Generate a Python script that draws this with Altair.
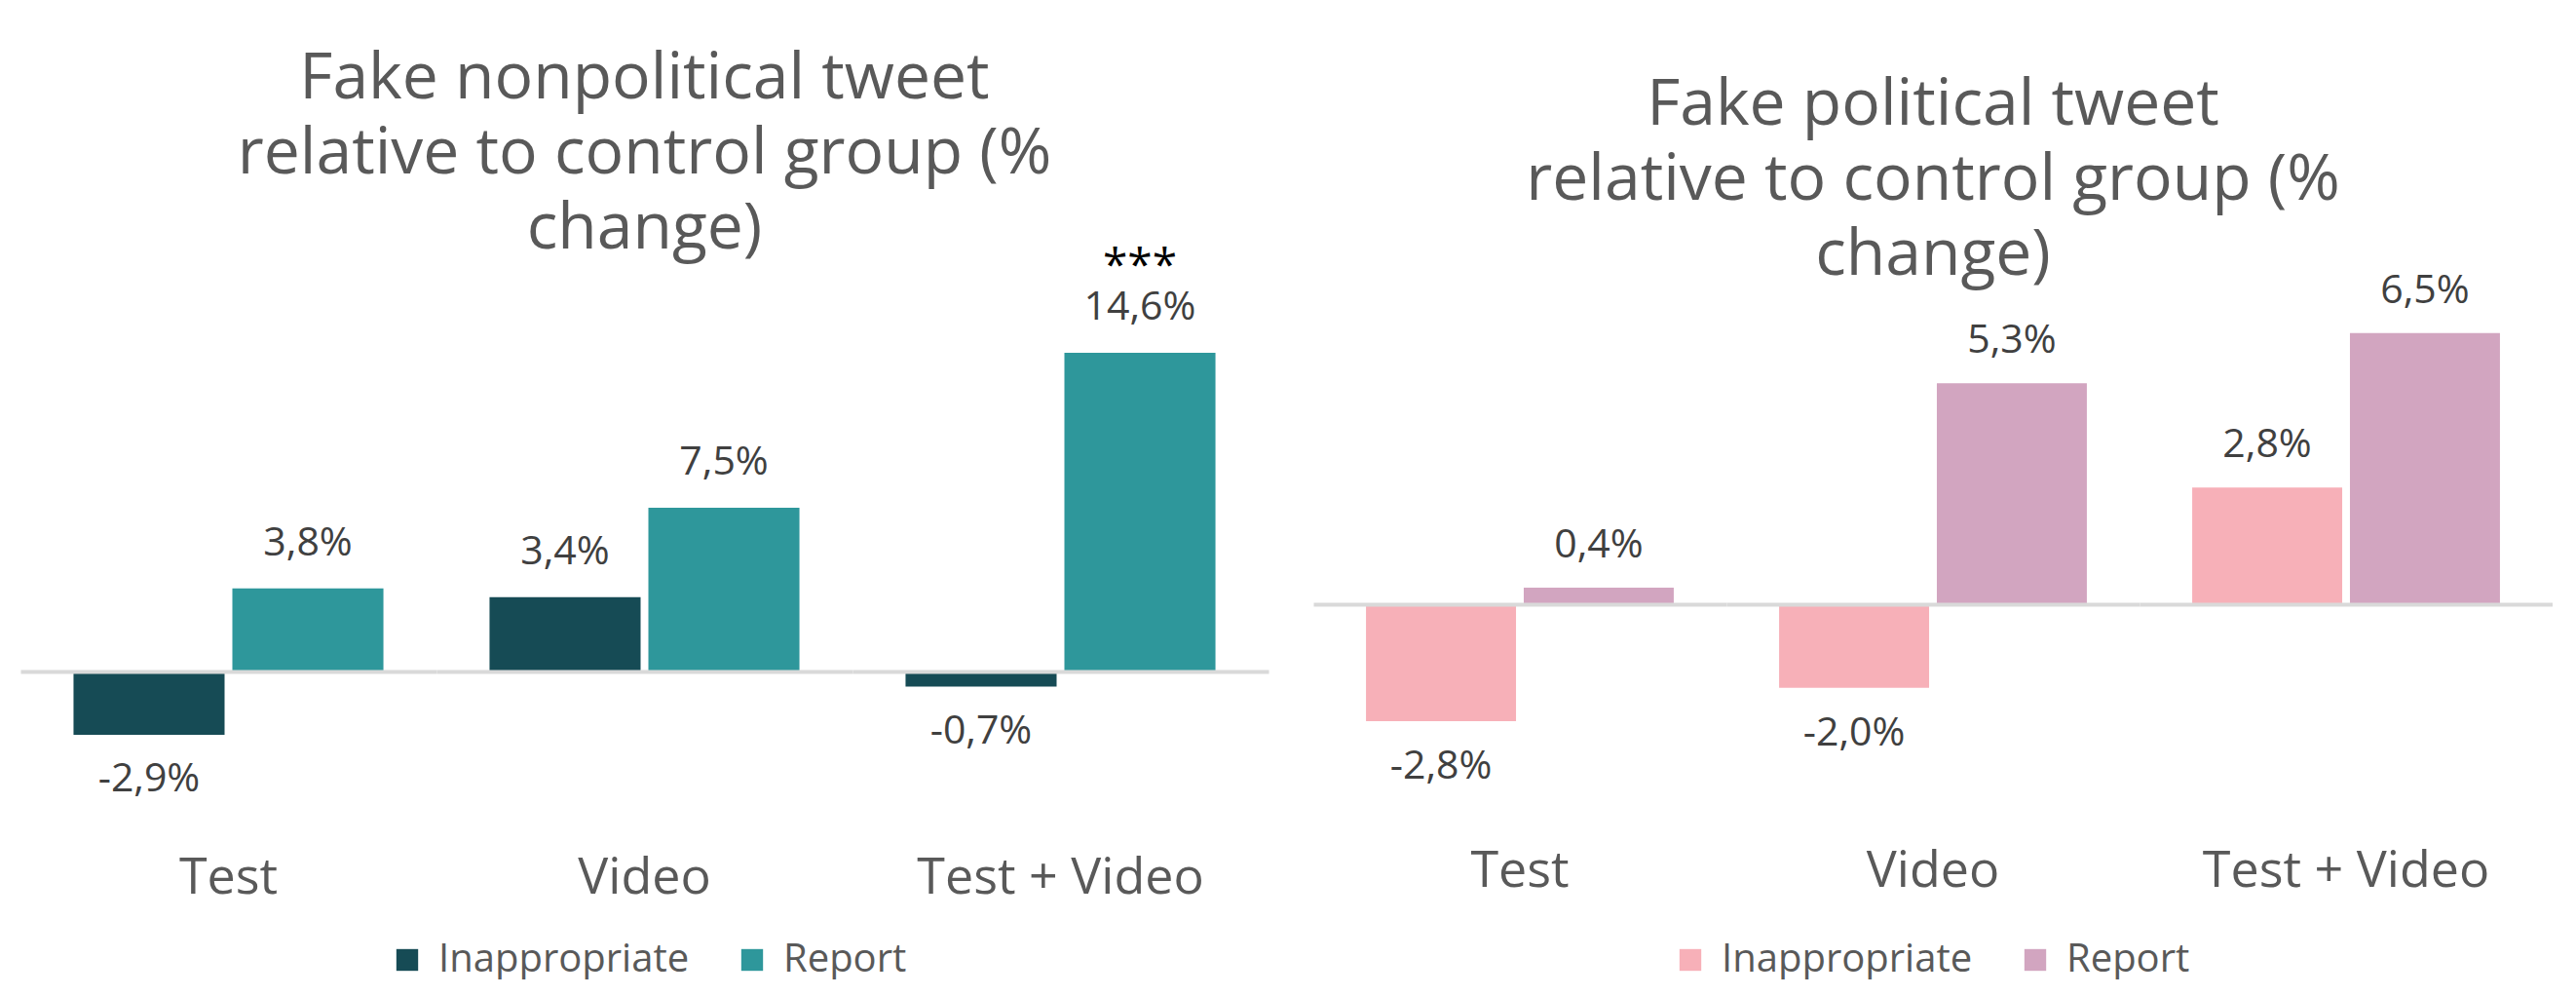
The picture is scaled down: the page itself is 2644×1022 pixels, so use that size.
import altair as alt
import pandas as pd

FONT = "Open Sans"

categories = ["Test", "Video", "Test + Video"]
series = ["Inappropriate", "Report"]

nonpol_inappropriate = [-2.9, 3.4, -0.7]
nonpol_report = [3.8, 7.5, 14.6]
nonpol_report_sig = ["", "", "***"]

pol_inappropriate = [-2.8, -2.0, 2.8]
pol_report = [0.4, 5.3, 6.5]
pol_report_sig = ["", "", ""]

nonpol_colors = ["#164B55", "#2E979B"]
pol_colors = ["#F7B0B8", "#D2A5C0"]

nonpol_title = ["Fake nonpolitical tweet", "relative to control group (%", "change)"]
pol_title = ["Fake political tweet", "relative to control group (%", "change)"]


def make_df(inapp, report, sig):
    rows = []
    for i, c in enumerate(categories):
        for s, vals, sg in ((series[0], inapp, [""] * 3), (series[1], report, sig)):
            v = vals[i]
            rows.append({
                "cat": c,
                "series": s,
                "value": v,
                "label": f"{v:.1f}".replace(".", ",") + "%",
                "sig": sg[i],
            })
    return pd.DataFrame(rows)


def panel(df, colors, title, domain, cell_w, label_pad, dy_pos, dy_neg, legend_x, legend_y):
    x = alt.X("series:N", scale=alt.Scale(domain=series, paddingInner=0.049, paddingOuter=0.334), axis=None)
    y = alt.Y(
        "value:Q",
        scale=alt.Scale(domain=domain, nice=False, zero=False),
        axis=alt.Axis(values=[0], grid=True, gridColor="#D9D9D9", gridWidth=4,
                      labels=False, ticks=False, domain=False, title=None, zindex=1),
    )
    bars = alt.Chart().mark_bar().encode(
        x=x, y=y,
        color=alt.Color(
            "series:N",
            scale=alt.Scale(domain=series, range=colors),
            legend=alt.Legend(
                title=None, orient="none", direction="horizontal",
                legendX=legend_x, legendY=legend_y,
                symbolType="square", symbolSize=500,
                labelFontSize=40, labelColor="#595959", labelFont=FONT,
                labelOffset=12, columnPadding=44, labelLimit=0,
            ),
        ),
    )
    pos = alt.Chart().transform_filter("datum.value >= 0").mark_text(
        dy=dy_pos, baseline="middle", fontSize=41, color="#404040", font=FONT
    ).encode(x=x, y=y, text="label:N")
    neg = alt.Chart().transform_filter("datum.value < 0").mark_text(
        dy=dy_neg, baseline="middle", fontSize=41, color="#404040", font=FONT
    ).encode(x=x, y=y, text="label:N")
    stars = alt.Chart().transform_filter("datum.sig != ''").mark_text(
        dy=-88, baseline="middle", fontSize=46, color="#000000", font=FONT
    ).encode(x=x, y=y, text="sig:N")
    inner = alt.layer(bars, pos, neg, stars, data=df).properties(width=cell_w, height=515)
    return inner.facet(
        column=alt.Column(
            "cat:N", sort=categories,
            header=alt.Header(title=None, labelOrient="bottom", labelFontSize=52,
                              labelColor="#595959", labelFont=FONT,
                              labelPadding=label_pad, labelLimit=0),
        ),
        spacing=0,
    ).properties(
        title=alt.TitleParams(
            text=title, fontSize=66, lineHeight=77, color="#595959",
            font=FONT, fontWeight="normal", anchor="middle", offset=-18,
        ),
    )


left = panel(
    make_df(nonpol_inappropriate, nonpol_report, nonpol_report_sig),
    nonpol_colors, nonpol_title, [-7.19, 15.80], 427, 26, -46, 46, 377, 630,
)
right = panel(
    make_df(pol_inappropriate, pol_report, pol_report_sig),
    pol_colors, pol_title, [-5.37, 6.66], 424, 19, -43, 47, 367, 630,
)

chart = (
    alt.hconcat(left, right, spacing=46)
    .resolve_scale(y="independent", color="independent")
    .properties(padding={"left": 21, "top": 47, "right": 0, "bottom": 0}, background="white")
    .configure_view(strokeWidth=0)
    .configure_axis(grid=False)
)

chart.save("out.html", embed_options={"renderer": "svg", "actions": False})
